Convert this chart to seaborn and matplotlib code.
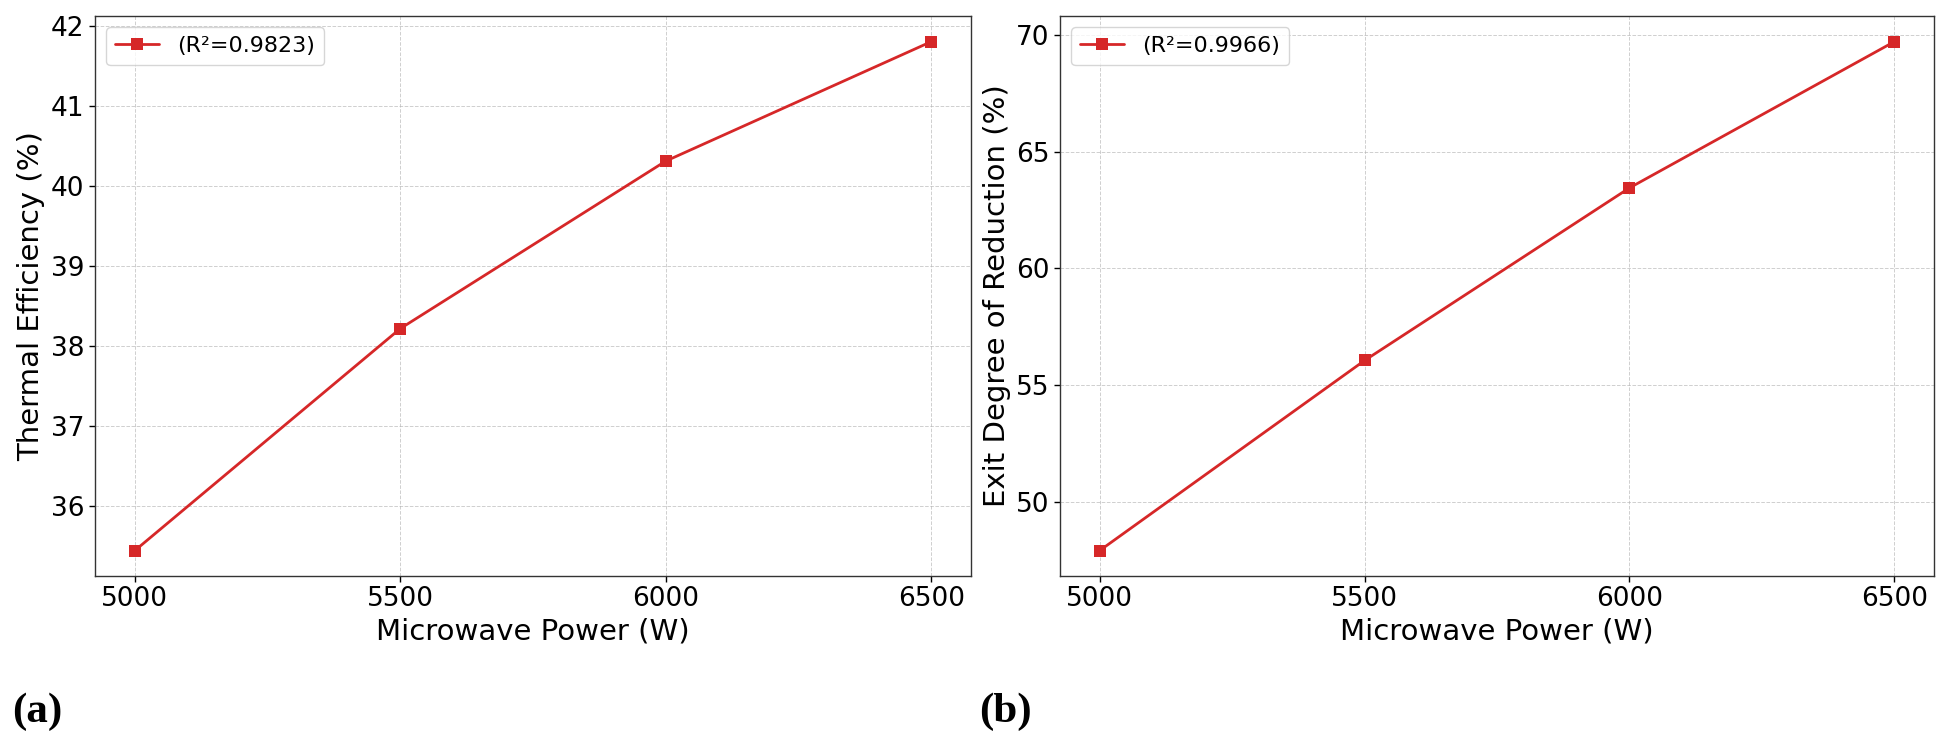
import numpy as np
import pandas as pd
import seaborn as sns
import matplotlib.pyplot as plt

# data
power = [5000, 5500, 6000, 6500]
thermal_eff = [35.45, 38.22, 40.31, 41.80]
exit_reduction = [47.9, 56.05, 63.45, 69.72]
labels_r2 = ["(R²=0.9823)", "(R²=0.9966)"]
ylabels = ["Thermal Efficiency (%)", "Exit Degree of Reduction (%)"]
panel_tags = ["(a)", "(b)"]

sns.set_style("white")
plt.rcParams['font.family'] = ['DejaVu Sans']
plt.rcParams['text.color'] = 'black'
plt.rcParams['axes.labelcolor'] = 'black'
plt.rcParams['xtick.color'] = 'black'
plt.rcParams['ytick.color'] = 'black'

fig = plt.figure(figsize=(19.51, 7.38), dpi=100)
ax1 = fig.add_axes([0.0487, 0.2195, 0.449, 0.7585])
ax2 = fig.add_axes([0.5433, 0.2195, 0.448, 0.7585])

series = [thermal_eff, exit_reduction]
for ax, vals, lab, ylab in zip([ax1, ax2], series, labels_r2, ylabels):
    df = pd.DataFrame({"power": power, "value": vals})
    sns.lineplot(data=df, x="power", y="value", ax=ax, color="#d62728",
                 marker="s", markersize=8, markeredgewidth=0, linewidth=2,
                 label=lab)
    ax.set_xticks(power)
    ax.set_xlabel("Microwave Power (W)", fontsize=21)
    ax.set_ylabel(ylab, fontsize=21)
    ax.tick_params(axis="both", labelsize=19, length=4, width=1, left=True, bottom=True)
    ax.grid(True, linestyle="--", color="#b0b0b0", linewidth=0.7, alpha=0.6)
    for s in ax.spines.values():
        s.set_color("#333333")
        s.set_linewidth(1.0)
    ax.legend(loc="upper left", fontsize=16, frameon=True, handlelength=2.0)

ax2.set_yticks([50, 55, 60, 65, 70])

fig.text(0.006, 0.022, panel_tags[0], fontsize=31, fontweight="bold", family="Liberation Serif")
fig.text(0.502, 0.022, panel_tags[1], fontsize=31, fontweight="bold", family="Liberation Serif")

fig.savefig("out.png", dpi=100)
